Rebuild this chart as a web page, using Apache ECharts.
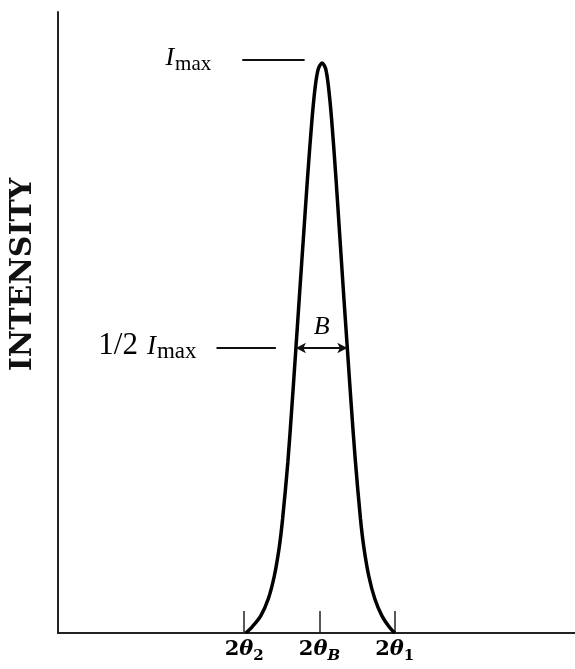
<!DOCTYPE html>
<html><head><meta charset="utf-8">
<script src="https://cdn.jsdelivr.net/npm/echarts@6/dist/echarts.min.js"></script>
<style>html,body{margin:0;padding:0;background:#fff}#c{width:575px;height:669px}</style>
</head><body><div id="c"></div>
<script>
// Diffraction peak profile (relative units: 2θB = 0, 2θ2 = -1, 2θ1 = +1)
const twoTheta = [-0.98, -0.90, -0.78, -0.68, -0.60, -0.535, -0.49, -0.42, -0.365, -0.313, -0.262, -0.21, -0.158, -0.10, -0.055, -0.015, 0.035, 0.082, 0.118, 0.162, 0.218, 0.268, 0.318, 0.37, 0.422, 0.478, 0.545, 0.59, 0.655, 0.735, 0.83, 0.93, 1.0];
const intensity = [0.0, 0.01, 0.03, 0.06, 0.10, 0.15, 0.20, 0.30, 0.40, 0.50, 0.60, 0.70, 0.80, 0.90, 0.96, 0.99, 1.0, 0.99, 0.96, 0.90, 0.80, 0.70, 0.60, 0.50, 0.40, 0.30, 0.20, 0.15, 0.10, 0.06, 0.03, 0.01, 0.0];
const tickValues = [-1, 0, 1];
const tickLabels = ['{n|2}{t|θ}{s|2}', '{n|2}{t|θ}{si|B}', '{n|2}{t|θ}{s|1}'];
const yAxisTitle = 'INTENSITY';
const imaxLevel = 1.005;
const halfLevel = 0.5;
const imaxGuide = [-1.026, -0.197];
const halfGuide = [-1.368, -0.579];
const fwhmEdges = [-0.313, 0.37];

const chart = echarts.init(document.getElementById('c'), null, {renderer: 'canvas'});
const serif = 'Liberation Serif';
const bold = 'DejaVu Serif';
const labelRich = {
  n: {fontFamily: bold, fontWeight: 'bold', fontSize: 21, color: '#000', verticalAlign: 'top'},
  t: {fontFamily: bold, fontWeight: 'bold', fontStyle: 'italic', fontSize: 21, color: '#000', verticalAlign: 'top'},
  s: {fontFamily: bold, fontWeight: 'bold', fontSize: 15, color: '#000', verticalAlign: 'top', padding: [10, 0, 0, 0]},
  si: {fontFamily: bold, fontWeight: 'bold', fontStyle: 'italic', fontSize: 15, color: '#000', verticalAlign: 'top', padding: [10, 0, 0, 0]}
};
const imaxRich = {
  n: {fontFamily: serif, fontSize: 31, color: '#000', verticalAlign: 'top', padding: [-3, 0, 0, 0]},
  i: {fontFamily: serif, fontStyle: 'italic', fontSize: 26, color: '#000', verticalAlign: 'top'},
  ih: {fontFamily: serif, fontStyle: 'italic', fontSize: 27, color: '#000', verticalAlign: 'top', padding: [0, 0, 0, 9]},
  m: {fontFamily: serif, fontSize: 21, color: '#000', verticalAlign: 'top', padding: [8, 0, 0, 1]},
  mh: {fontFamily: serif, fontSize: 23, color: '#000', verticalAlign: 'top', padding: [7, 0, 0, 1]}
};
const option = {
  animation: false,
  backgroundColor: '#fff',
  grid: {left: 53, right: 0, top: 12, bottom: 36},
  xAxis: {
    type: 'value', min: -3.474, max: 3.395,
    axisLine: {show: true, onZero: false, lineStyle: {color: '#222', width: 2}},
    axisTick: {show: true, inside: true, length: 22, customValues: tickValues, lineStyle: {color: '#222', width: 1.5}},
    axisLabel: {show: true, customValues: tickValues, margin: 6,
      formatter: v => tickLabels[tickValues.indexOf(v)] || '', rich: labelRich},
    splitLine: {show: false}
  },
  yAxis: {
    type: 'value', min: 0, max: 1.0895,
    name: yAxisTitle, nameLocation: 'middle', nameRotate: 90, nameGap: 20,
    nameTextStyle: {fontFamily: bold, fontWeight: 'bold', fontSize: 30, color: '#111', padding: [0, 0, 0, 96]},
    axisLine: {show: true, onZero: false, lineStyle: {color: '#222', width: 2}},
    axisTick: {show: false}, axisLabel: {show: false}, splitLine: {show: false}
  },
  series: [{
    type: 'line',
    data: twoTheta.map((x, i) => [x, intensity[i]]),
    smooth: 0.3, showSymbol: false,
    lineStyle: {color: '#000', width: 3.5},
    markLine: {
      silent: true, symbol: 'none',
      lineStyle: {color: '#111', width: 2, type: 'solid'},
      data: [
        [{coord: [imaxGuide[0], imaxLevel], symbol: 'none',
          label: {show: true, position: 'start', distance: 31, formatter: '{i|I}{m|max}', rich: imaxRich}},
         {coord: [imaxGuide[1], imaxLevel], symbol: 'none'}],
        [{coord: [halfGuide[0], halfLevel], symbol: 'none',
          label: {show: true, position: 'start', distance: 20, formatter: '{n|1/2}{ih|I}{mh|max}', rich: imaxRich}},
         {coord: [halfGuide[1], halfLevel], symbol: 'none'}],
        [{coord: [fwhmEdges[0], halfLevel], symbol: 'arrow', symbolSize: [8, 10],
          label: {show: true, position: 'middle', distance: 8, formatter: 'B',
            fontFamily: serif, fontStyle: 'italic', fontSize: 26, color: '#000'}},
         {coord: [fwhmEdges[1], halfLevel], symbol: 'arrow', symbolSize: [8, 10]}]
      ]
    }
  }]
};
chart.setOption(option);
</script>
</body></html>
